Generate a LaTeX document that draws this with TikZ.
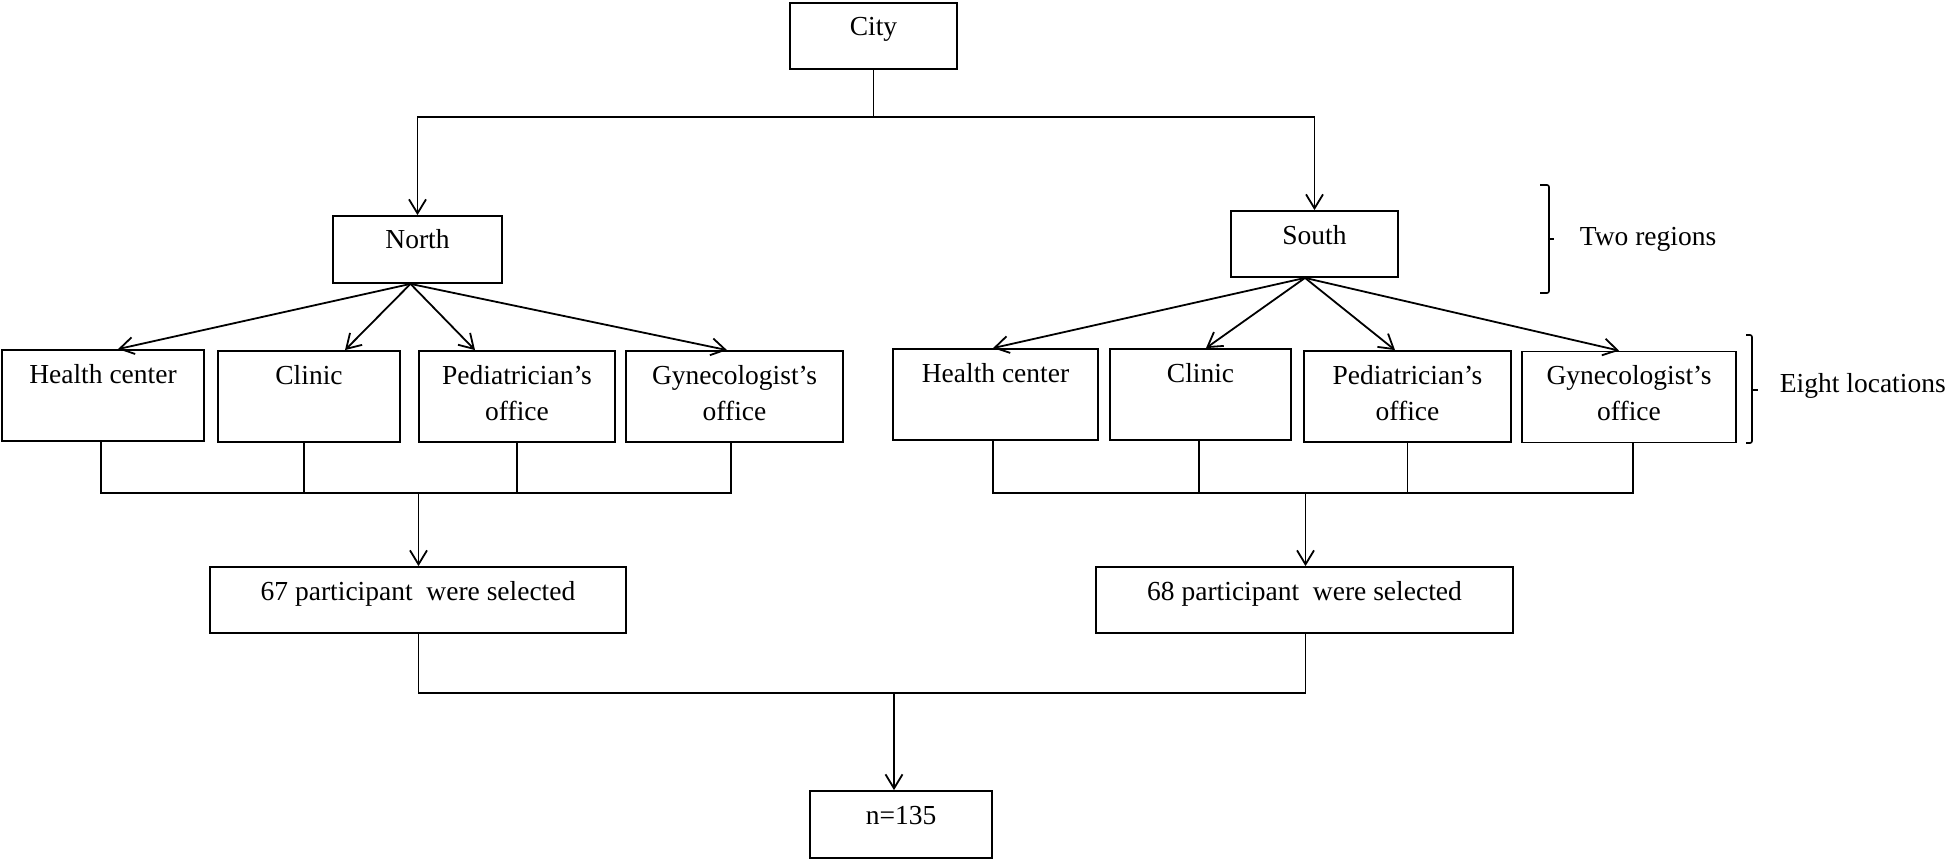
\documentclass[tikz,border=0pt]{standalone}
\usepackage{fontspec}
\setmainfont{Liberation Serif}
\usetikzlibrary{arrows.meta}
\newcommand{\twol}[2]{\begin{tabular}[t]{@{}c@{}}#1\\#2\end{tabular}}
\begin{document}
\begin{tikzpicture}[x=0.5pt,y=-0.5pt,
  line width=0.9pt,
  box/.style={draw, line width=0.9pt, inner sep=0pt, text height=16.5pt,
    font=\fontsize{13.75}{18}\selectfont},
  sbox/.style={box, minimum height=33pt, text depth=16.5pt},
  lbox/.style={box, minimum height=45.5pt, text depth=29pt},
  arr/.style={-{Straight Barb[length=7pt,width=8.5pt,line width=0.9pt]}},
  lab/.style={anchor=base west, inner sep=0pt, font=\fontsize{13.75}{18}\selectfont}]
\useasboundingbox (0,0) rectangle (1946,861);

% top
\node[sbox, minimum width=83.5pt] (city) at (873.5,36) {City};
\node[sbox, minimum width=84.5pt, minimum height=33.5pt, text depth=17pt] (north) at (417.5,249.5) {North};
\node[sbox, minimum width=83.5pt] (south) at (1314.5,244) {South};

% locations north
\node[lbox, minimum width=101pt] (L1) at (103,395.5) {Health center};
\node[lbox, minimum width=91pt] (L2) at (309,396.5) {Clinic};
\node[lbox, minimum width=98pt] (L3) at (517,396.5) {\twol{Pediatrician’s}{office}};
\node[lbox, minimum width=108.5pt] (L4) at (734.5,396.5) {\twol{Gynecologist’s}{office}};

% locations south
\node[lbox, minimum width=102.5pt] (R1) at (995.5,394.5) {Health center};
\node[lbox, minimum width=90.5pt] (R2) at (1200.5,394.5) {Clinic};
\node[lbox, minimum width=103.5pt] (R3) at (1407.5,396.5) {\twol{Pediatrician’s}{office}};
\node[lbox, minimum width=107pt] (R4) at (1629,397) {\twol{Gynecologist’s}{office}};

% selected
\node[sbox, minimum width=208pt] (p67) at (418,600) {67 participant~ were selected};
\node[sbox, minimum width=208.5pt] (p68) at (1304.5,600) {68 participant~ were selected};
\node[sbox, minimum width=91pt, minimum height=33.5pt, text depth=17pt] (n) at (901,824.5) {n=135};

% city to regions
\coordinate (cj) at (873.5,117);
\draw (city.south) -- (cj);
\draw[arr] (cj) -| (north.north);
\draw[arr] (cj) -| (south.north);

% regions to locations
\draw[arr] ([xshift=-3.5pt]north.south) -- ([xshift=7.5pt]L1.north);
\draw[arr] ([xshift=-3.5pt]north.south) -- ([xshift=18pt]L2.north);
\draw[arr] ([xshift=-3.5pt]north.south) -- ([xshift=-21pt]L3.north);
\draw[arr] ([xshift=-3.5pt]north.south) -- ([xshift=-3.75pt]L4.north);

\draw[arr] ([xshift=-4.75pt]south.south) -- ([xshift=-1.25pt]R1.north);
\draw[arr] ([xshift=-4.75pt]south.south) -- ([xshift=2.75pt]R2.north);
\draw[arr] ([xshift=-4.75pt]south.south) -- ([xshift=-6.25pt]R3.north);
\draw[arr] ([xshift=-4.75pt]south.south) -- ([xshift=-5pt]R4.north);

% locations to selected
\coordinate (lj) at (418.5,493);
\draw ([xshift=-1pt]L1.south) |- (lj);
\draw ([xshift=-1.75pt]L4.south) |- (lj);
\draw ([xshift=-2.5pt]L2.south) -- ([xshift=-2.5pt]L2.south |- lj);
\draw (L3.south) -- (L3.south |- lj);
\draw[arr] (lj) -- ([xshift=0.25pt]p67.north);

\coordinate (rj) at (1305.5,493);
\draw ([xshift=-1.25pt]R1.south) |- (rj);
\draw ([xshift=2pt]R4.south) |- (rj);
\draw ([xshift=-0.75pt]R2.south) -- ([xshift=-0.75pt]R2.south |- rj);
\draw (R3.south) -- (R3.south |- rj);
\draw[arr] (rj) -- ([xshift=0.5pt]p68.north);

% selected to total
\coordinate (bj) at (894,693);
\draw ([xshift=0.25pt]p67.south) |- (bj);
\draw ([xshift=0.5pt]p68.south) |- (bj);
\draw[arr] (bj) -- ([xshift=-3.5pt]n.north);

% brackets
\draw[line width=0.8pt, rounded corners=1pt] (1540,185) -- (1549,185) -- (1549,293) -- (1540,293);
\draw[line width=0.8pt] (1549,239) -- (1554,239);
\node[lab] (tworeg) at (1579,245) {Two regions};

\draw[line width=0.8pt, rounded corners=1pt] (1746,335) -- (1752,335) -- (1752,443) -- (1746,443);
\draw[line width=0.8pt] (1752,390) -- (1758,390);
\node[lab] (eightloc) at (1779,392) {Eight locations};
\end{tikzpicture}
\end{document}
